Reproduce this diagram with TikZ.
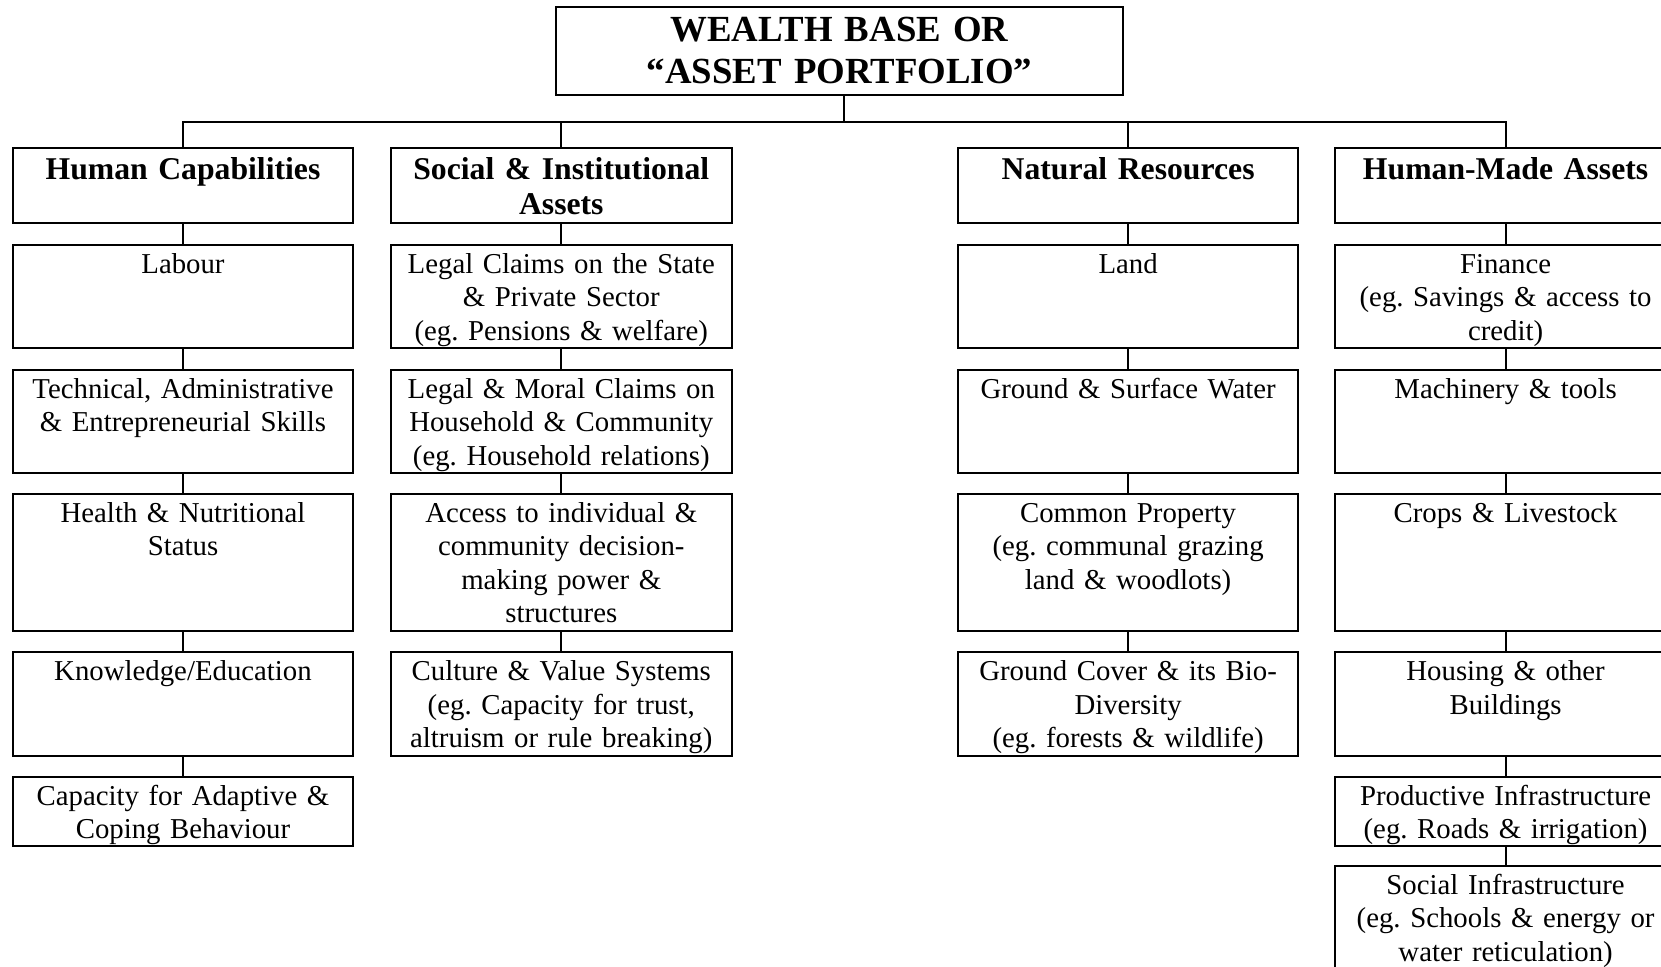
\documentclass[tikz,border=0pt]{standalone}
\usepackage{fontspec}
\setmainfont{Liberation Serif}
\frenchspacing

% one cell of the chart: a framed box with its text set at the top
% #1 name, #2 column centre, #3 top edge, #4 bottom edge, #5 text style, #6 text
\newcommand{\assetcell}[6]{%
  \node[cellbox, minimum height={(#4-#3)*0.5pt}] (#1) at (#2,{(#3+#4)/2}) {};
  \node[#5] (#1txt) at ([yshift=-\csname #5gap\endcsname]#1.north) {\strut #6};
}
\newcommand{\bodytxtgap}{2.3pt}
\newcommand{\headtxtgap}{3pt}

\begin{document}
\begin{tikzpicture}[x=0.5pt,y=-0.5pt,
  cellbox/.style={draw, line width=1.05pt, inner sep=0pt, outer sep=0pt, minimum width=170.3pt},
  bodytxt/.style={anchor=north, inner sep=0pt, text width=168pt, align=center,
    font=\fontsize{14.4pt}{16.75pt}\selectfont\frenchspacing},
  headtxt/.style={anchor=north, inner sep=0pt, text width=168pt, align=center,
    font=\fontsize{15.85pt}{17.5pt}\selectfont\bfseries\frenchspacing},
  titletxt/.style={anchor=north, inner sep=0pt, text width=280pt, align=center,
    font=\fontsize{18.4pt}{21.2pt}\selectfont\bfseries\frenchspacing},
  link/.style={line width=1.05pt}
]
\useasboundingbox (0,0) rectangle (1661,967);
\clip (0,0) rectangle (1661,967);

% title
\node[cellbox, minimum width=283.8pt, minimum height=44.15pt] (top) at (839.5,50.85) {};
\node[titletxt] (toptxt) at ([yshift=-2.2pt]top.north) {\strut WEALTH BASE OR\\“ASSET PORTFOLIO”};

% Human Capabilities
\assetcell{hc0}{183}{148.3}{223.4}{headtxt}{Human Capabilities}
\assetcell{hc1}{183}{245}{348.3}{bodytxt}{Labour}
\assetcell{hc2}{183}{370}{472.7}{bodytxt}{Technical, Administrative\\\& Entrepreneurial Skills}
\assetcell{hc3}{183}{494}{630.7}{bodytxt}{Health \& Nutritional\\Status}
\assetcell{hc4}{183}{652.3}{755.7}{bodytxt}{Knowledge/Education}
\assetcell{hc5}{183}{776.7}{846}{bodytxt}{Capacity for Adaptive \&\\Coping Behaviour}

% Social & Institutional Assets
\assetcell{si0}{561.3}{148.3}{223.4}{headtxt}{Social \& Institutional\\Assets}
\assetcell{si1}{561.3}{245}{348.3}{bodytxt}{Legal Claims on the State\\\& Private Sector\\(eg. Pensions \& welfare)}
\assetcell{si2}{561.3}{370}{472.7}{bodytxt}{Legal \& Moral Claims on\\Household \& Community\\(eg. Household relations)}
\assetcell{si3}{561.3}{494}{630.7}{bodytxt}{Access to individual \&\\community decision-\\making power \&\\structures}
\assetcell{si4}{561.3}{652.3}{755.7}{bodytxt}{Culture \& Value Systems\\(eg. Capacity for trust,\\altruism or rule breaking)}

% Natural Resources
\assetcell{nr0}{1128.1}{148.3}{223.4}{headtxt}{Natural Resources}
\assetcell{nr1}{1128.1}{245}{348.3}{bodytxt}{Land}
\assetcell{nr2}{1128.1}{370}{472.7}{bodytxt}{Ground \& Surface Water}
\assetcell{nr3}{1128.1}{494}{630.7}{bodytxt}{Common Property\\(eg. communal grazing\\land \& woodlots)}
\assetcell{nr4}{1128.1}{652.3}{755.7}{bodytxt}{Ground Cover \& its Bio-\\Diversity\\(eg. forests \& wildlife)}

% Human-Made Assets
\assetcell{hm0}{1505.6}{148.3}{223.4}{headtxt}{Human-Made Assets}
\assetcell{hm1}{1505.6}{245}{348.3}{bodytxt}{Finance\\(eg. Savings \& access to\\credit)}
\assetcell{hm2}{1505.6}{370}{472.7}{bodytxt}{Machinery \& tools}
\assetcell{hm3}{1505.6}{494}{630.7}{bodytxt}{Crops \& Livestock}
\assetcell{hm4}{1505.6}{652.3}{755.7}{bodytxt}{Housing \& other\\Buildings}
\assetcell{hm5}{1505.6}{776.7}{846}{bodytxt}{Productive Infrastructure\\(eg. Roads \& irrigation)}
\assetcell{hm6}{1505.6}{866}{985}{bodytxt}{Social Infrastructure\\(eg. Schools \& energy or\\water reticulation)}

% branching from the title to the four columns
\coordinate (bar) at (844,121.7);
\draw[link] (top.south -| bar) -- (bar);
\draw[link] (hc0.north) -- (hc0.north |- bar) -- (hm0.north |- bar) -- (hm0.north);
\draw[link] (si0.north |- bar) -- (si0.north);
\draw[link] (nr0.north |- bar) -- (nr0.north);

% links down each column
\foreach \a/\b in {hc0/hc1,hc1/hc2,hc2/hc3,hc3/hc4,hc4/hc5,
                   si0/si1,si1/si2,si2/si3,si3/si4,
                   nr0/nr1,nr1/nr2,nr2/nr3,nr3/nr4,
                   hm0/hm1,hm1/hm2,hm2/hm3,hm3/hm4,hm4/hm5,hm5/hm6}
  \draw[link] (\a.south) -- (\b.north);
\end{tikzpicture}
\end{document}
